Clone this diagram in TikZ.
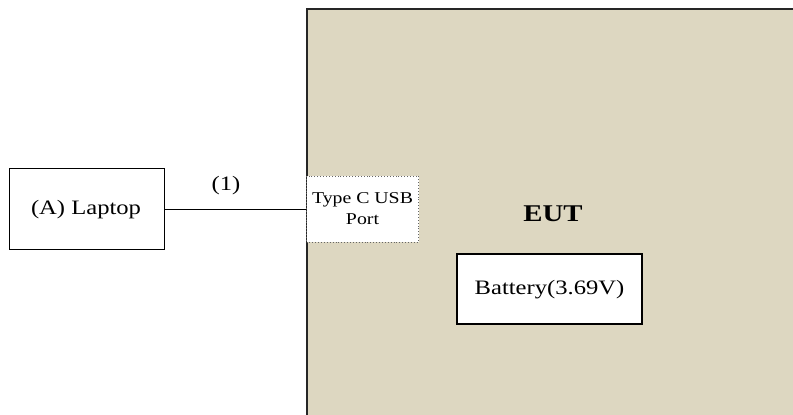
\documentclass[tikz,border=0pt]{standalone}
\usepackage{fontspec}
\setmainfont{Liberation Serif}[FakeStretch=1.2]
\definecolor{eutfill}{HTML}{DDD7C1}
\begin{document}
\begin{tikzpicture}[x=1pt,y=-1pt,
  box/.style={draw=black,line width=1.2pt,fill=white,inner sep=0pt},
  lbl/.style={font=\fontsize{20.5}{24}\selectfont,inner sep=0pt}]
\useasboundingbox (0,0) rectangle (793,415);
% EUT area
\fill[eutfill] (307,9) rectangle (800,420);
\draw[line width=1.6pt,black!85] (307,420) -- (307,9) -- (800,9);
% Laptop
\node[box,minimum width=155pt,minimum height=81pt] (laptop) at (87,209) {};
\node[lbl] (laptoptxt) at (86,210) {(A) Laptop};
% USB port
\node[draw=black!60,dotted,line width=0.9pt,fill=white,minimum width=112pt,minimum height=66pt,inner sep=0pt] (usb) at (362.5,209) {};
\node[font=\fontsize{16.5}{19}\selectfont,align=center,inner sep=0pt] (usbtxt) at (362.5,208.5) {Type C USB\\[2pt]Port};
% connector
\draw[line width=1pt] (laptop.east) -- (usb.west);
\node[lbl] (c1) at (226,186) {(1)};
% EUT label
\node[font=\fontsize{24}{28}\selectfont\bfseries,inner sep=0pt] (eut) at (553,214) {EUT};
% Battery
\node[box,minimum width=185pt,minimum height=70pt] (bat) at (549.5,289) {};
\node[lbl] (battxt) at (549.5,290) {Battery(3.69V)};
\end{tikzpicture}
\end{document}
